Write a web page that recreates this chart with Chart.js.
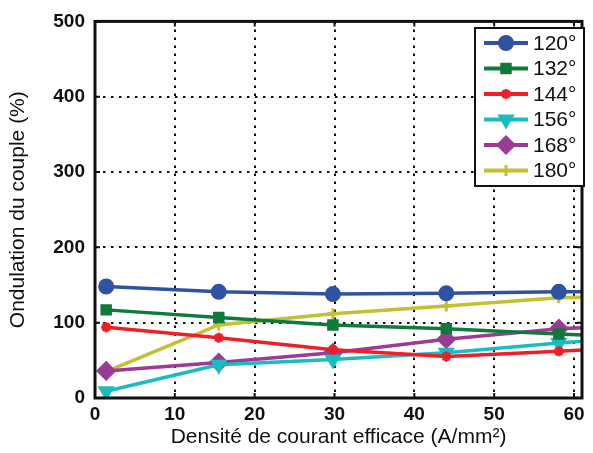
<!DOCTYPE html>
<html>
<head>
<meta charset="utf-8">
<script src="https://cdn.jsdelivr.net/npm/chart.js@4.4.0/dist/chart.umd.min.js"></script>
<style>
  html, body { margin: 0; padding: 0; background: #fff; }
  #wrap { width: 593px; height: 453px; }
</style>
</head>
<body>
<div id="wrap"><canvas id="c"></canvas></div>
<script>
// current density (A/mm²); last point lies past the axis end and is clipped
const xVals = [1.4, 15.5, 29.8, 44.0, 58.1, 72.3]
const labels = ['120°', '132°', '144°', '156°', '168°', '180°']
const s120 = [148, 141, 138, 139, 141, 141]
const s132 = [117, 107, 97, 92, 85, 78]
const s144 = [94, 80, 64, 55, 62, 70]
const s156 = [9, 44, 51, 60, 73, 85]
const s168 = [36, 47, 60, 78, 92, 98]
const s180 = [35, 97, 112, 122, 133, 136]
const yTicks = [0, 100, 200, 300, 400, 500]

const colors = ['#2f52a3', '#0e7b3b', '#ef1f25', '#19bdc0', '#9b3b95', '#c3c12f']
const styles = ['circle', 'rect', 'star', 'triangle', 'rectRot', 'cross']
const radii = [6.5, 6, 5, 7, 8, 5.5]
const rots = [0, 0, 0, 180, 0, 0]
const series = [s120, s132, s144, s156, s168, s180]

const FONT = 'Liberation Sans, Arial, sans-serif'

const datasets = series.map((s, i) => ({
  label: labels[i],
  data: s.map((v, k) => ({ x: xVals[k], y: v })),
  borderColor: colors[i],
  backgroundColor: colors[i],
  pointBackgroundColor: colors[i],
  pointBorderColor: colors[i],
  borderWidth: 3.5,
  pointStyle: styles[i],
  pointRadius: radii[i],
  pointBorderWidth: 3,
  pointRotation: rots[i],
  tension: 0
}))

// frame, inward ticks and legend box drawn MATLAB style
const matlabBox = {
  id: 'matlabBox',
  afterDatasetsDraw(chart) {
    const { ctx, chartArea: a, scales } = chart
    ctx.save()
    ctx.strokeStyle = '#111'
    ctx.lineWidth = 2
    const tl = 5
    scales.x.ticks.forEach(t => {
      const px = scales.x.getPixelForValue(t.value)
      ctx.beginPath()
      ctx.moveTo(px, a.bottom); ctx.lineTo(px, a.bottom - tl)
      ctx.moveTo(px, a.top); ctx.lineTo(px, a.top + tl)
      ctx.stroke()
    })
    scales.y.ticks.forEach(t => {
      const py = scales.y.getPixelForValue(t.value)
      ctx.beginPath()
      ctx.moveTo(a.left, py); ctx.lineTo(a.left + tl, py)
      ctx.moveTo(a.right, py); ctx.lineTo(a.right - tl, py)
      ctx.stroke()
    })
    ctx.lineWidth = 3
    ctx.strokeRect(a.left, a.top, a.right - a.left, a.bottom - a.top)

    // legend
    const lx = 475, ly = 28, lw = 109, lh = 158
    ctx.fillStyle = '#fff'
    ctx.fillRect(lx, ly, lw, lh)
    ctx.lineWidth = 2
    ctx.strokeRect(lx, ly, lw, lh)
    ctx.font = '21px ' + FONT
    ctx.textBaseline = 'middle'
    chart.data.datasets.forEach((d, i) => {
      const yy = ly + 15 + i * 25.5
      ctx.strokeStyle = d.borderColor
      ctx.lineWidth = 4
      ctx.beginPath()
      ctx.moveTo(lx + 9, yy); ctx.lineTo(lx + 53, yy)
      ctx.stroke()
      ctx.fillStyle = d.borderColor
      ctx.lineWidth = 3
      Chart.helpers.drawPoint(ctx, { pointStyle: d.pointStyle, radius: d.pointRadius, rotation: d.pointRotation, borderWidth: 3 }, lx + 31, yy)
      ctx.fillStyle = '#111'
      ctx.fillText(d.label, lx + 58, yy + 1)
    })
    ctx.restore()
  }
}

new Chart(document.getElementById('c'), {
  type: 'line',
  data: { datasets: datasets },
  options: {
    responsive: true,
    maintainAspectRatio: false,
    animation: false,
    layout: { padding: { top: 21, right: 3, left: 0, bottom: 0 } },
    plugins: { legend: { display: false }, tooltip: { enabled: false } },
    scales: {
      x: {
        type: 'linear',
        min: 0, max: 61,
        afterFit: s => { s.height = 55 },
        ticks: { stepSize: 10, includeBounds: false, color: '#111', padding: 5, maxRotation: 0,
          font: { family: FONT, size: 19, weight: 'bold' } },
        grid: { color: '#111', lineWidth: 2, drawTicks: false, tickLength: 0 },
        border: { display: false, dash: [2.5, 5.5] },
        title: { display: true, text: 'Densité de courant efficace (A/mm²)', color: '#111',
          font: { family: FONT, size: 21 }, padding: { top: 0, bottom: 3 } }
      },
      y: {
        min: 0, max: 500,
        afterFit: s => { s.width = 95 },
        afterBuildTicks: s => { s.ticks = yTicks.map(v => ({ value: v })) },
        ticks: { color: '#111', padding: 10,
          font: { family: FONT, size: 19, weight: 'bold' } },
        grid: { color: '#111', lineWidth: 2, drawTicks: false, tickLength: 0 },
        border: { display: false, dash: [2.5, 5.5] },
        title: { display: true, text: 'Ondulation du couple (%)', color: '#111',
          font: { family: FONT, size: 21 }, padding: { top: 6, bottom: 0 } }
      }
    }
  },
  plugins: [matlabBox]
})
</script>
</body>
</html>
